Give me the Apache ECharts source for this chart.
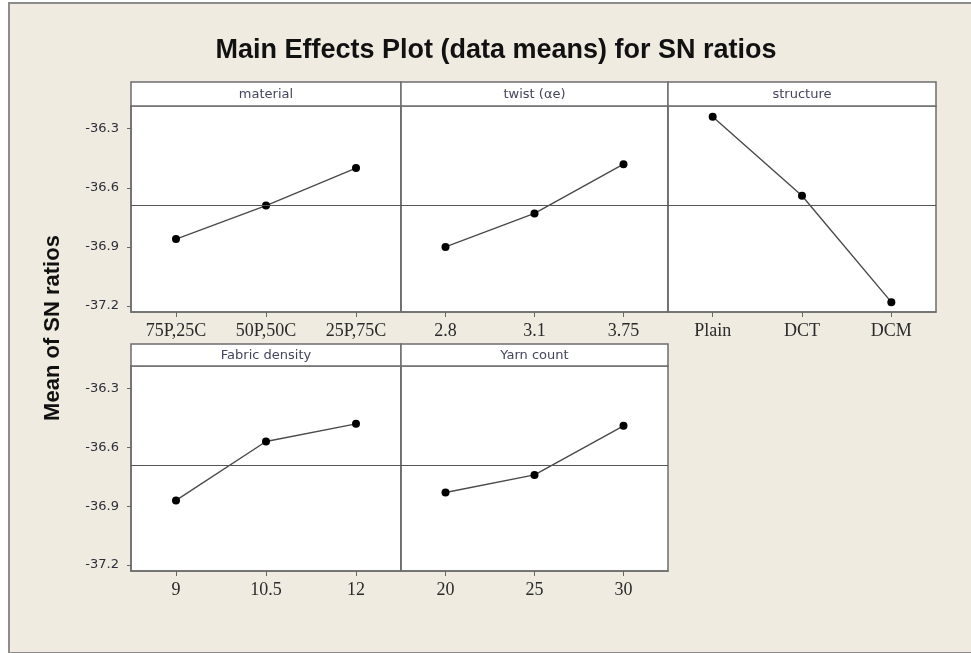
<!DOCTYPE html>
<html>
<head>
<meta charset="utf-8">
<title>Main Effects Plot for SN ratios</title>
<script src="https://cdn.jsdelivr.net/npm/echarts@6/dist/echarts.min.js"></script>
<style>
  html, body { margin: 0; padding: 0; background: #fff; }
  .frame {
    position: absolute; left: 8px; top: 2px; width: 980px; height: 648px;
    background: #efebe1; border: 2px solid #8c8c8c;
  }
  #chart { position: absolute; left: 0; top: 0; width: 971px; height: 653px; }
</style>
</head>
<body>
<div class="frame"></div>
<div id="chart"></div>
<script>
// factor levels and mean SN ratio per level
const materialLevels = ['75P,25C', '50P,50C', '25P,75C']
const materialMeans = [-36.86, -36.69, -36.50]

const twistLevels = ['2.8', '3.1', '3.75']
const twistMeans = [-36.90, -36.73, -36.48]

const structureLevels = ['Plain', 'DCT', 'DCM']
const structureMeans = [-36.24, -36.64, -37.18]

const densityLevels = ['9', '10.5', '12']
const densityMeans = [-36.87, -36.57, -36.48]

const yarnLevels = ['20', '25', '30']
const yarnMeans = [-36.83, -36.74, -36.49]

const yTicks = [-36.3, -36.6, -36.9, -37.2]
const grandMean = -36.686

const panels = [
  { name: 'material', levels: materialLevels, means: materialMeans },
  { name: 'twist (αe)', levels: twistLevels, means: twistMeans },
  { name: 'structure', levels: structureLevels, means: structureMeans },
  { name: 'Fabric density', levels: densityLevels, means: densityMeans },
  { name: 'Yarn count', levels: yarnLevels, means: yarnMeans }
]

// panel layout (pixels)
const colLeft = [131, 401, 668]
const colWidth = [270, 267, 268]
const rows = [
  { headTop: 82, headH: 24, top: 106, height: 206 },
  { headTop: 344, headH: 22, top: 366, height: 205 }
]
const borderColor = '#6e6e6e'

const chart = echarts.init(document.getElementById('chart'))

const grids = []
const xAxes = []
const yAxes = []
const series = []
const graphics = []

panels.forEach((p, i) => {
  const col = i % 3
  const row = rows[Math.floor(i / 3)]
  const left = colLeft[col]
  const width = colWidth[col]
  const isLeft = col === 0

  grids.push({
    left: left, top: row.top, width: width, height: row.height,
    show: true, backgroundColor: '#fff', borderColor: borderColor, borderWidth: 1.5
  })

  xAxes.push({
    type: 'category',
    gridIndex: i,
    data: p.levels,
    boundaryGap: true,
    axisLine: { show: true, lineStyle: { color: borderColor, width: 1.5 } },
    axisTick: { show: true, alignWithLabel: true, length: 5, lineStyle: { color: '#666' } },
    axisLabel: {
      fontFamily: 'Liberation Serif', fontSize: 18, color: '#2a2a2a', margin: 10
    },
    splitLine: { show: false }
  })

  yAxes.push({
    type: 'value',
    gridIndex: i,
    min: -37.23,
    max: -36.185,
    axisLine: { show: true, lineStyle: { color: borderColor, width: 1.5 } },
    axisTick: {
      show: isLeft, length: 4, customValues: yTicks, lineStyle: { color: '#666' }
    },
    axisLabel: {
      show: isLeft, customValues: yTicks,
      fontFamily: 'DejaVu Sans', fontSize: 13, color: '#2e2e3a', margin: 12,
      formatter: (v) => v.toFixed(1)
    },
    splitLine: { show: false }
  })

  series.push({
    type: 'line',
    xAxisIndex: i,
    yAxisIndex: i,
    data: p.means,
    symbol: 'circle',
    symbolSize: 8,
    itemStyle: { color: '#000' },
    lineStyle: { color: '#4a4a4a', width: 1.4 },
    silent: true,
    markLine: {
      silent: true,
      symbol: 'none',
      label: { show: false },
      lineStyle: { color: '#555', width: 1, type: 'solid' },
      data: [{ yAxis: grandMean }]
    }
  })

  // panel header strip
  graphics.push({
    type: 'rect',
    shape: { x: left, y: row.headTop, width: width, height: row.headH },
    style: { fill: '#fff', stroke: borderColor, lineWidth: 1.5 }
  })
  graphics.push({
    type: 'text',
    style: {
      text: p.name,
      x: left + width / 2,
      y: row.headTop + row.headH / 2 + 1,
      textAlign: 'center',
      textVerticalAlign: 'middle',
      font: '13px "DejaVu Sans"',
      fill: '#45455f'
    }
  })
})

graphics.push({
  type: 'text',
  style: {
    text: 'Main Effects Plot (data means) for SN ratios',
    x: 496, y: 51,
    textAlign: 'center', textVerticalAlign: 'middle',
    font: 'bold 27px "Liberation Sans"',
    fill: '#111'
  }
})
graphics.push({
  type: 'text',
  x: 53, y: 328,
  rotation: Math.PI / 2,
  style: {
    text: 'Mean of SN ratios',
    x: 0, y: 0,
    textAlign: 'center', textVerticalAlign: 'middle',
    font: 'bold 22px "Liberation Sans"',
    fill: '#111'
  }
})

chart.setOption({
  animation: false,
  backgroundColor: 'transparent',
  grid: grids,
  xAxis: xAxes,
  yAxis: yAxes,
  series: series,
  graphic: graphics
})
</script>
</body>
</html>
